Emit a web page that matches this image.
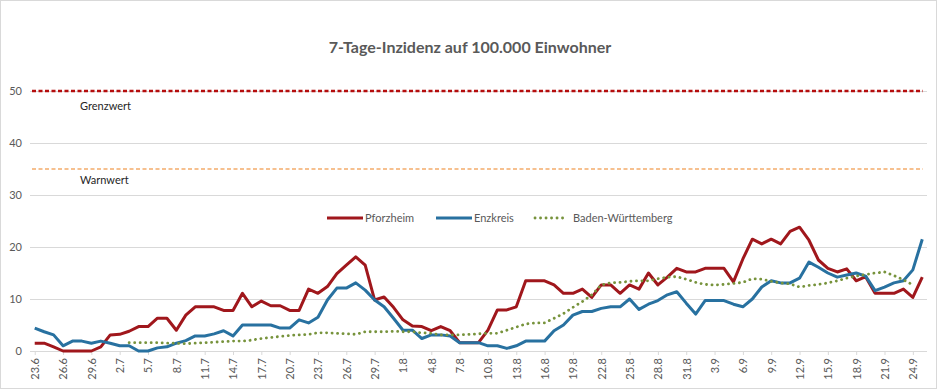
<!DOCTYPE html>
<html>
<head>
<meta charset="utf-8">
<script src="https://cdn.jsdelivr.net/npm/d3@7"></script>
<style>
  body { margin: 0; background: #fff; }
  svg { display: block; font-family: Lato, "Open Sans", sans-serif; }
</style>
</head>
<body>
<div id="chart"></div>
<script>
// Tage (Kategorien)
const dates = [
	'23.6', '24.6', '25.6', '26.6', '27.6', '28.6', '29.6', '30.6',
	'1.7', '2.7', '3.7', '4.7', '5.7', '6.7', '7.7', '8.7', '9.7', '10.7',
	'11.7', '12.7', '13.7', '14.7', '15.7', '16.7', '17.7', '18.7', '19.7', '20.7',
	'21.7', '22.7', '23.7', '24.7', '25.7', '26.7', '27.7', '28.7', '29.7', '30.7', '31.7',
	'1.8', '2.8', '3.8', '4.8', '5.8', '6.8', '7.8', '8.8', '9.8', '10.8',
	'11.8', '12.8', '13.8', '14.8', '15.8', '16.8', '17.8', '18.8', '19.8', '20.8',
	'21.8', '22.8', '23.8', '24.8', '25.8', '26.8', '27.8', '28.8', '29.8', '30.8', '31.8',
	'1.9', '2.9', '3.9', '4.9', '5.9', '6.9', '7.9', '8.9', '9.9', '10.9',
	'11.9', '12.9', '13.9', '14.9', '15.9', '16.9', '17.9', '18.9', '19.9', '20.9',
	'21.9', '22.9', '23.9', '24.9', '25.9',
]

const pforzheim = [
	1.5, 1.5, 0.8, 0, 0, 0, 0, 0.8,
	3.1, 3.2, 3.8, 4.7, 4.7, 6.3, 6.3, 4.0, 6.9, 8.5,
	8.5, 8.5, 7.8, 7.8, 11.1, 8.5, 9.6, 8.7, 8.7, 7.8,
	7.8, 11.9, 11.1, 12.4, 14.9, 16.5, 18.1, 16.5, 9.8, 10.4, 8.4,
	6.0, 4.8, 4.7, 3.9, 4.7, 3.9, 1.6, 1.6, 1.6, 4.0,
	7.9, 7.9, 8.5, 13.5, 13.5, 13.5, 12.7, 11.1, 11.1, 11.9,
	10.3, 12.7, 12.7, 11.1, 12.7, 11.9, 15.0, 12.7, 14.2, 15.9, 15.2,
	15.2, 15.9, 15.9, 15.9, 13.3, 17.7, 21.5, 20.6, 21.5, 20.6,
	23.0, 23.8, 21.3, 17.5, 15.9, 15.2, 15.8, 13.5, 14.3, 11.1,
	11.1, 11.1, 11.9, 10.3, 14.2,
]

const enzkreis = [
	4.4, 3.7, 3.1, 1.0, 1.9, 1.9, 1.5, 1.9,
	1.5, 1.0, 1.0, 0, 0, 0.6, 0.8, 1.5, 2.0, 2.9,
	2.9, 3.3, 3.9, 2.9, 5.0, 5.0, 5.0, 5.0, 4.4, 4.4,
	6.0, 5.4, 6.5, 9.8, 12.1, 12.1, 13.1, 11.7, 9.8, 8.5, 6.3,
	4.0, 4.0, 2.4, 3.1, 3.1, 2.9, 1.6, 1.6, 1.6, 1.0,
	1.0, 0.5, 1.0, 1.9, 1.9, 1.9, 3.9, 5.0, 6.9, 7.6,
	7.6, 8.2, 8.5, 8.5, 10.0, 8.0, 9.0, 9.7, 10.8, 11.4, 9.2,
	7.1, 9.7, 9.7, 9.7, 9.0, 8.5, 10.0, 12.3, 13.5, 13.1,
	13.1, 14.0, 17.1, 16.1, 15.0, 14.2, 14.6, 15.0, 14.4, 11.6,
	12.3, 13.1, 13.5, 15.6, 21.5,
]

const badenWuerttemberg = [
	null, null, null, null, null, null, null, null,
	null, null, 1.6, 1.6, 1.6, 1.6, 1.5, 1.5, 1.4, 1.5,
	1.6, 1.7, 1.8, 1.9, 1.9, 2.1, 2.4, 2.6, 2.8, 3.0,
	3.1, 3.2, 3.5, 3.5, 3.4, 3.3, 3.2, 3.7, 3.7, 3.7, 3.8,
	3.7, 3.7, 3.5, 3.4, 3.1, 3.1, 3.1, 3.2, 3.3, 3.4,
	3.4, 4.0, 4.6, 5.2, 5.4, 5.4, 6.3, 7.2, 8.4, 9.5,
	10.8, 12.7, 13.1, 13.2, 13.4, 13.5, 13.5, 13.9, 14.2, 14.3, 13.8,
	13.2, 12.8, 12.7, 12.8, 13.0, 13.2, 13.9, 13.8, 13.4, 13.1,
	12.9, 12.3, 12.6, 12.8, 13.1, 13.5, 14.0, 14.4, 14.7, 15.0,
	15.2, 14.5, 13.7, 12.7, null,
]

const yTicks = [0, 10, 20, 30, 40, 50]
const grenzwert = 50
const warnwert = 35

const series = [
	{ name: 'Pforzheim', values: pforzheim, color: '#a0171c', dash: null, width: 3 },
	{ name: 'Enzkreis', values: enzkreis, color: '#2871a0', dash: null, width: 3 },
	{ name: 'Baden-Württemberg', values: badenWuerttemberg, color: '#77933c', dash: '0.1 5.4', width: 2.8 },
]

function createLineChart() {
	const svgWidth = 937
	const svgHeight = 389
	const margin = { top: 91, right: 10, bottom: 38, left: 30 }

	const svg = d3
		.select('#chart')
		.append('svg')
		.attr('width', svgWidth)
		.attr('height', svgHeight)

	// Rahmen
	svg
		.append('rect')
		.attr('x', 0.5)
		.attr('y', 0.5)
		.attr('width', svgWidth - 1)
		.attr('height', svgHeight - 1)
		.attr('fill', '#fff')
		.attr('stroke', '#d9d9d9')

	const x = d3
		.scalePoint()
		.domain(dates)
		.range([margin.left, svgWidth - margin.right])
		.padding(0.5)

	const y = d3
		.scaleLinear()
		.domain([0, 50])
		.range([svgHeight - margin.bottom, margin.top])

	// Titel
	svg
		.append('text')
		.attr('x', 470)
		.attr('y', 53)
		.attr('text-anchor', 'middle')
		.attr('font-size', 16)
		.attr('font-weight', 'bold')
		.attr('fill', '#595959')
		.text('7-Tage-Inzidenz auf 100.000 Einwohner')

	// Gitter + y-Achse
	const yAxis = svg
		.append('g')
		.attr('transform', `translate(${margin.left},0)`)
		.call(
			d3
				.axisLeft(y)
				.tickValues(yTicks)
				.tickSize(-(svgWidth - margin.left - margin.right))
				.tickPadding(8)
		)
	yAxis.select('.domain').remove()
	yAxis.selectAll('line').attr('stroke', '#d9d9d9')
	yAxis
		.selectAll('text')
		.attr('font-size', 11)
		.attr('fill', '#595959')
		.attr('font-family', 'Lato, sans-serif')

	// x-Achse
	const xAxis = svg
		.append('g')
		.attr('transform', `translate(0,${y(0)})`)
		.call(
			d3
				.axisBottom(x)
				.tickValues(dates.filter((d, i) => i % 3 === 0))
				.tickSize(4)
		)
	xAxis.select('.domain').attr('stroke', '#d9d9d9').attr('d', `M${margin.left},0.5H${svgWidth - margin.right}`)
	xAxis.selectAll('line').attr('stroke', '#d9d9d9')
	xAxis
		.selectAll('text')
		.attr('font-size', 11)
		.attr('fill', '#595959')
		.attr('font-family', 'Lato, sans-serif')
		.attr('text-anchor', 'end')
		.attr('transform', 'rotate(-90)')
		.attr('x', -7)
		.attr('y', 0)
		.attr('dy', '0.35em')

	// Grenzwert / Warnwert
	svg
		.append('line')
		.attr('x1', margin.left + 2)
		.attr('x2', svgWidth - margin.right - 4)
		.attr('y1', y(grenzwert))
		.attr('y2', y(grenzwert))
		.attr('stroke', '#b50d0d')
		.attr('stroke-width', 2.4)
		.attr('stroke-dasharray', '4 2.5')

	svg
		.append('line')
		.attr('x1', margin.left + 2)
		.attr('x2', svgWidth - margin.right - 4)
		.attr('y1', y(warnwert))
		.attr('y2', y(warnwert))
		.attr('stroke', '#f6c08f')
		.attr('stroke-width', 2.2)
		.attr('stroke-dasharray', '4 2.5')

	svg
		.append('text')
		.attr('x', 80)
		.attr('y', y(grenzwert) + 19)
		.attr('font-size', 11)
		.attr('fill', '#262626')
		.text('Grenzwert')

	svg
		.append('text')
		.attr('x', 80)
		.attr('y', y(warnwert) + 15)
		.attr('font-size', 11)
		.attr('fill', '#262626')
		.text('Warnwert')

	// Linien
	const line = d3
		.line()
		.defined((d) => d != null)
		.x((d, i) => x(dates[i]))
		.y((d) => y(d))

	series.forEach((s) => {
		svg
			.append('path')
			.datum(s.values)
			.attr('fill', 'none')
			.attr('stroke', s.color)
			.attr('stroke-width', s.width)
			.attr('stroke-linejoin', 'round')
			.attr('stroke-linecap', s.dash ? 'round' : 'butt')
			.attr('stroke-dasharray', s.dash)
			.attr('d', line)
	})

	// Legende
	const legendX = [327, 436, 533]
	const legend = svg
		.selectAll('.legend')
		.data(series)
		.enter()
		.append('g')
		.attr('class', 'legend')
		.attr('transform', (d, i) => `translate(${legendX[i]},218)`)

	legend
		.append('line')
		.attr('x1', (d) => (d.dash ? 2 : 0))
		.attr('x2', (d) => (d.dash ? 32 : 36))
		.attr('stroke', (d) => d.color)
		.attr('stroke-width', (d) => d.width)
		.attr('stroke-linecap', (d) => (d.dash ? 'round' : 'butt'))
		.attr('stroke-dasharray', (d) => d.dash)

	legend
		.append('text')
		.attr('x', (d) => (d.dash ? 40 : 38))
		.attr('dy', '0.35em')
		.attr('font-size', 11)
		.attr('fill', '#595959')
		.text((d) => d.name)
}

createLineChart()
</script>
</body>
</html>
